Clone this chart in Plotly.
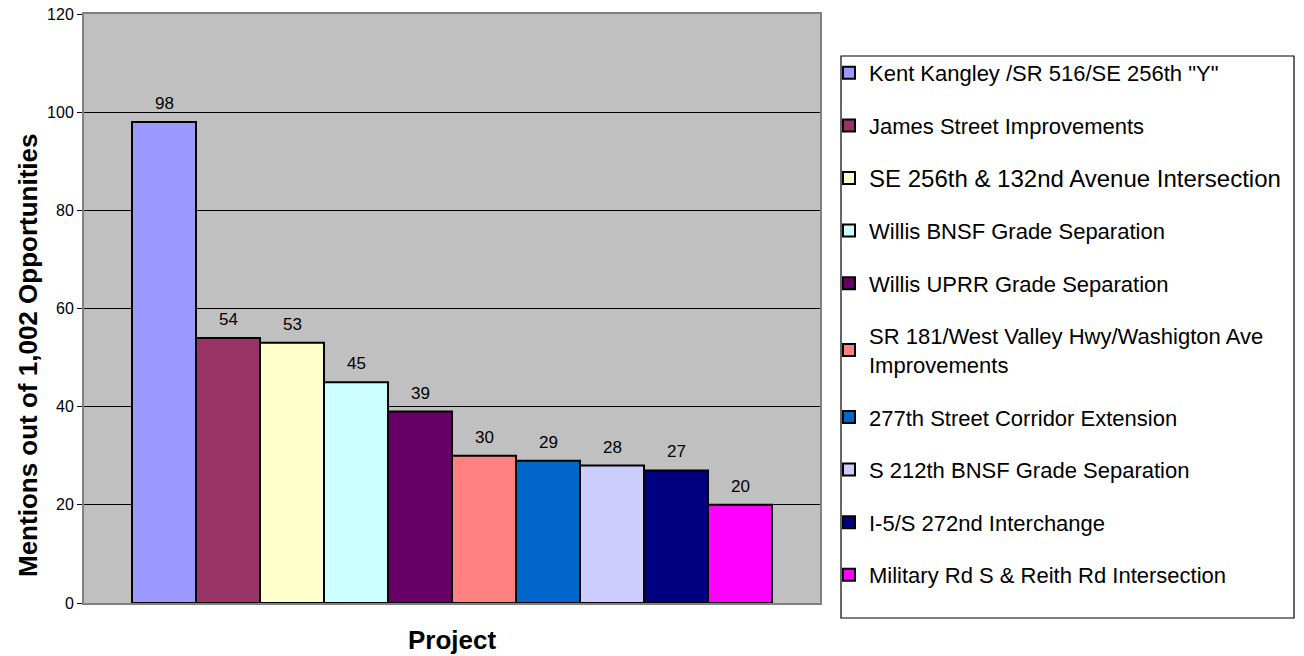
import plotly.graph_objects as go

# Survey results: how often each project was mentioned
projects = [
    'Kent Kangley /SR 516/SE 256th "Y"',
    "James Street Improvements",
    "SE 256th & 132nd Avenue Intersection",
    "Willis BNSF Grade Separation",
    "Willis UPRR Grade Separation",
    "SR 181/West Valley Hwy/Washigton Ave<br>Improvements",
    "277th Street Corridor Extension",
    "S 212th BNSF Grade Separation",
    "I-5/S 272nd Interchange",
    "Military Rd S & Reith Rd Intersection",
]
mentions = [98, 54, 53, 45, 39, 30, 29, 28, 27, 20]
colors = ["#9999FF", "#993366", "#FFFFCC", "#CCFFFF", "#660066",
          "#FF8080", "#0066CC", "#CCCCFF", "#000080", "#FF00FF"]
y_ticks = [0, 20, 40, 60, 80, 100, 120]

FONT = "Arial, 'Liberation Sans', sans-serif"
W, H = 1304, 656
ML, MR, MT, MB = 84, 484, 14, 53
PW, PH = W - ML - MR, H - MT - MB


def px_x(x):
    return (x - ML) / PW


def px_y(y):
    return (H - MB - y) / PH


fig = go.Figure()
for i, (name, val, col) in enumerate(zip(projects, mentions, colors)):
    label = name
    if i == 2:
        label = '<span style="font-size:24px">' + name + "</span>"
    fig.add_trace(go.Bar(
        x=[i], y=[val], width=1, name=label,
        marker=dict(color=col, line=dict(color="black", width=2)),
        legendgroup=f"g{i}",
        hoverinfo="y",
    ))
    fig.add_annotation(
        x=i, y=val, text=str(val), showarrow=False,
        yanchor="bottom", yshift=7,
        font=dict(family=FONT, size=17, color="black"),
    )

# Legend frame
fig.add_shape(
    type="rect", xref="paper", yref="paper",
    x0=px_x(841), x1=px_x(1294), y0=px_y(618), y1=px_y(56),
    line=dict(color="black", width=1.2), fillcolor="white", layer="below",
)

# Value-axis title, centred on the chart area
fig.add_annotation(
    xref="paper", yref="paper", x=px_x(28), y=px_y(356),
    xanchor="center", yanchor="middle", textangle=-90, showarrow=False,
    text="<b>Mentions out of 1,002 Opportunities</b>",
    font=dict(family=FONT, size=26, color="black"),
)

fig.update_layout(
    width=W, height=H,
    margin=dict(l=ML, r=MR, t=MT, b=MB, autoexpand=False),
    paper_bgcolor="white",
    plot_bgcolor="#C0C0C0",
    barmode="overlay",
    font=dict(family=FONT, size=16, color="black"),
    showlegend=True,
    legend=dict(
        x=px_x(829), y=px_y(52), xanchor="left", yanchor="top",
        bgcolor="rgba(0,0,0,0)", borderwidth=0,
        font=dict(family=FONT, size=22, color="black"),
        tracegroupgap=21,
        itemclick=False,
    ),
    xaxis=dict(
        range=[-1.25, 10.25], showticklabels=False, ticks="",
        showgrid=False, zeroline=False, automargin=False,
        showline=True, linecolor="#808080", linewidth=2, mirror=True,
        title=dict(text="<b>Project</b>", font=dict(family=FONT, size=26),
                   standoff=27),
    ),
    yaxis=dict(
        range=[0, 120], tickvals=y_ticks,
        ticks="outside", ticklen=5, tickcolor="black",
        showgrid=True, gridcolor="black", gridwidth=1,
        zeroline=False, automargin=False,
        showline=True, linecolor="#808080", linewidth=2, mirror=True,
        tickfont=dict(family=FONT, size=16),
    ),
)

fig.write_html("out.html")
